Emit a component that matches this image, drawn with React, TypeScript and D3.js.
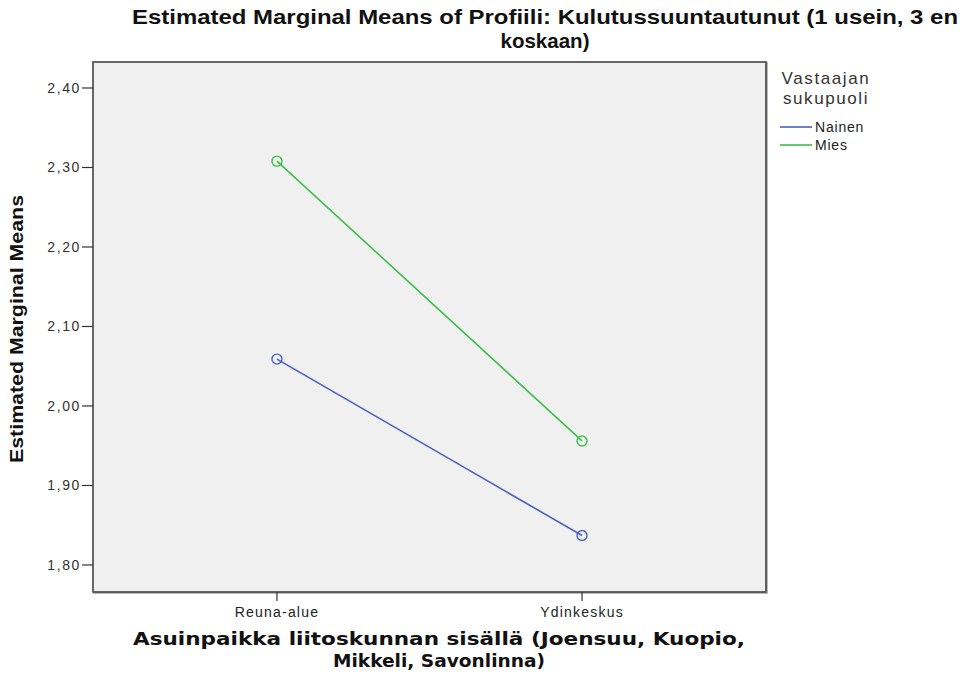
import React from "react";
import * as d3 from "d3";

const categories = ["Reuna-alue", "Ydinkeskus"];
const seriesNames = ["Nainen", "Mies"];
const nainenValues = [2.059, 1.837];
const miesValues = [2.308, 1.956];
const yTicks = [1.8, 1.9, 2.0, 2.1, 2.2, 2.3, 2.4];
const seriesColors = ["#4a62c0", "#3cbf4a"];

const W = 967;
const H = 677;
const plot = { left: 93, top: 62, right: 766, bottom: 592 };

export default function App() {
  const x = d3
    .scalePoint<string>()
    .domain(categories)
    .range([plot.left, plot.right])
    .padding(0.603);
  const y = d3.scaleLinear().domain([1.766, 2.4327]).range([plot.bottom, plot.top]);
  const line = d3
    .line<number>()
    .x((_, i) => x(categories[i]) as number)
    .y((v) => y(v));
  const series = [nainenValues, miesValues];
  const fmt = (v: number) => v.toFixed(2).replace(".", ",");
  const tickFont = "'Liberation Sans', Arial, sans-serif";

  return (
    <svg
      width={W}
      height={H}
      style={{ position: "absolute", left: 0, top: 0, background: "#fff" }}
    >
      {/* Title */}
      <text
        x={545}
        y={24}
        textAnchor="middle"
        fontFamily={tickFont}
        fontWeight="bold"
        fontSize={21}
        textLength={826}
        lengthAdjust="spacingAndGlyphs"
        fill="#111"
      >
        Estimated Marginal Means of Profiili: Kulutussuuntautunut (1 usein, 3 en
      </text>
      <text
        x={545}
        y={48}
        textAnchor="middle"
        fontFamily={tickFont}
        fontWeight="bold"
        fontSize={21}
        textLength={89}
        lengthAdjust="spacingAndGlyphs"
        fill="#111"
      >
        koskaan)
      </text>

      {/* Plot shadow & background */}
      <rect
        x={plot.left + 1}
        y={plot.top + 1}
        width={plot.right - plot.left}
        height={plot.bottom - plot.top}
        fill="none"
        stroke="#bbb"
        strokeWidth={2}
      />
      <rect
        x={plot.left}
        y={plot.top}
        width={plot.right - plot.left}
        height={plot.bottom - plot.top}
        fill="#f0f0f0"
        stroke="#444"
        strokeWidth={1.6}
      />

      {/* Y axis ticks */}
      {yTicks.map((t) => (
        <g key={t}>
          <line x1={plot.left - 11} x2={plot.left} y1={y(t)} y2={y(t)} stroke="#333" strokeWidth={1.2} />
          <text
            x={plot.left - 12}
            y={y(t)}
            dy="0.35em"
            textAnchor="end"
            fontFamily={tickFont}
            fontSize={14}
            letterSpacing={1.6}
            fill="#333"
          >
            {fmt(t)}
          </text>
        </g>
      ))}

      {/* X axis ticks */}
      {categories.map((c) => (
        <g key={c}>
          <line
            x1={x(c) as number}
            x2={x(c) as number}
            y1={plot.bottom}
            y2={plot.bottom + 9}
            stroke="#333"
            strokeWidth={1.2}
          />
          <text
            x={x(c) as number}
            y={plot.bottom + 25}
            textAnchor="middle"
            fontFamily={tickFont}
            fontSize={14}
            letterSpacing={1.2}
            fill="#222"
          >
            {c}
          </text>
        </g>
      ))}

      {/* Y axis title */}
      <text
        transform={`translate(23, ${(195 + 463) / 2}) rotate(-90)`}
        textAnchor="middle"
        fontFamily={tickFont}
        fontWeight="bold"
        fontSize={19}
        textLength={268}
        lengthAdjust="spacingAndGlyphs"
        fill="#111"
      >
        Estimated Marginal Means
      </text>

      {/* X axis title */}
      <text
        x={439}
        y={645}
        textAnchor="middle"
        fontFamily="'DejaVu Sans', Verdana, sans-serif"
        fontWeight="bold"
        fontSize={17}
        textLength={612}
        lengthAdjust="spacingAndGlyphs"
        fill="#111"
      >
        Asuinpaikka liitoskunnan sisällä (Joensuu, Kuopio,
      </text>
      <text
        x={439}
        y={667}
        textAnchor="middle"
        fontFamily="'DejaVu Sans', Verdana, sans-serif"
        fontWeight="bold"
        fontSize={17}
        textLength={212}
        lengthAdjust="spacingAndGlyphs"
        fill="#111"
      >
        Mikkeli, Savonlinna)
      </text>

      {/* Lines and markers */}
      {series.map((vals, si) => (
        <g key={seriesNames[si]}>
          <path d={line(vals) || ""} fill="none" stroke={seriesColors[si]} strokeWidth={1.6} />
          {vals.map((v, i) => (
            <circle
              key={i}
              cx={x(categories[i]) as number}
              cy={y(v)}
              r={5}
              fill="none"
              stroke={seriesColors[si]}
              strokeWidth={1.4}
            />
          ))}
        </g>
      ))}

      {/* Legend */}
      <text x={826} y={84} textAnchor="middle" fontFamily={tickFont} fontSize={17} letterSpacing={1.6} fill="#333">
        Vastaajan
      </text>
      <text x={826} y={104} textAnchor="middle" fontFamily={tickFont} fontSize={17} letterSpacing={1.6} fill="#333">
        sukupuoli
      </text>
      {seriesNames.map((n, i) => (
        <g key={n}>
          <line
            x1={780}
            x2={812}
            y1={127 + i * 18}
            y2={127 + i * 18}
            stroke={seriesColors[i]}
            strokeWidth={1.6}
          />
          <text
            x={815}
            y={127 + i * 18}
            dy="0.35em"
            fontFamily={tickFont}
            fontSize={14}
            letterSpacing={0.8}
            fill="#222"
          >
            {n}
          </text>
        </g>
      ))}
    </svg>
  );
}
